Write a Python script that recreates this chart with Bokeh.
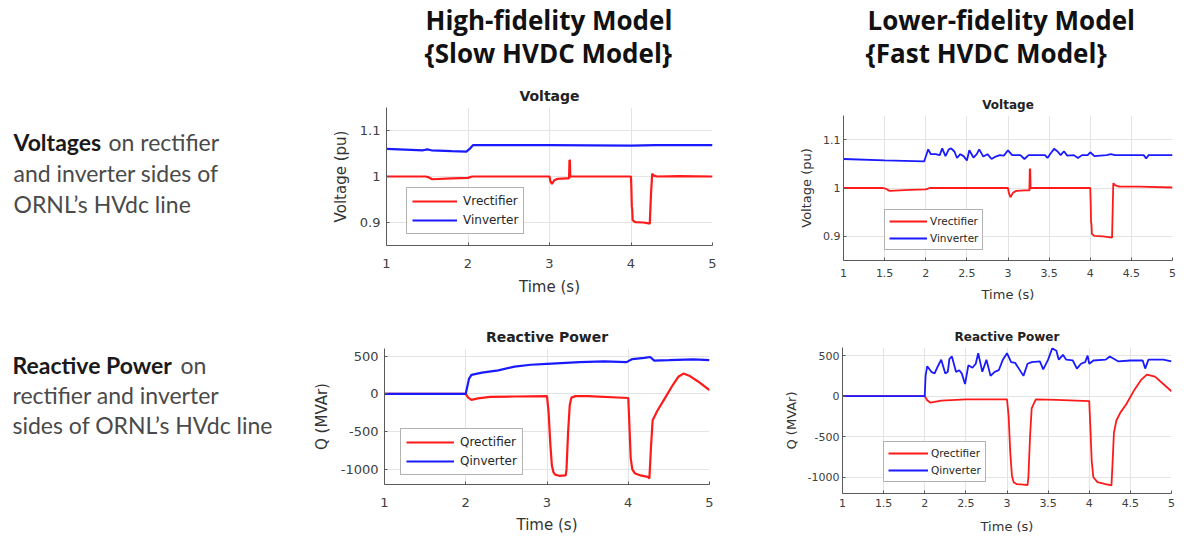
from bokeh.plotting import figure
from bokeh.models import Range1d, FixedTicker, Legend, LegendItem
from bokeh.layouts import row, column
from bokeh.core.properties import value
from bokeh.embed import file_html
from bokeh.resources import INLINE

# ---------------- data ----------------
# High-fidelity model, voltage
t_hi_vrect = [1.0, 1.48, 1.52, 1.56, 1.8, 2.0, 2.05, 2.5, 3.0, 3.01, 3.03, 3.06, 3.1, 3.2, 3.24,
              3.245, 3.25, 3.255, 3.26, 3.3, 3.6, 4.0, 4.005, 4.01, 4.015, 4.02, 4.05, 4.15, 4.22,
              4.23, 4.245, 4.26, 4.28, 4.32, 4.6, 5.0]
v_hi_vrect = [1.0, 1.0, 0.998, 0.994, 0.996, 0.997, 1.0, 1.0, 1.0, 0.99, 0.984, 0.992, 0.995, 0.996, 0.996,
              1.036, 1.035, 0.998, 1.0, 1.0, 1.0, 1.0, 0.97, 0.935, 0.928, 0.905, 0.901, 0.9, 0.898,
              0.897, 0.96, 1.006, 1.002, 1.0, 1.001, 1.0]
t_hi_vinv = [1.0, 1.45, 1.5, 1.55, 1.8, 1.98, 2.02, 2.06, 2.5, 3.0, 4.0, 4.3, 5.0]
v_hi_vinv = [1.06, 1.057, 1.059, 1.057, 1.055, 1.054, 1.06, 1.068, 1.068, 1.068, 1.067, 1.068, 1.068]

# Lower-fidelity model, voltage
t_lo_vrect = [1.0, 1.48, 1.52, 1.56, 1.8, 2.0, 2.05, 2.5, 3.0, 3.01, 3.03, 3.06, 3.1, 3.2, 3.26,
              3.265, 3.27, 3.275, 3.28, 3.3, 3.6, 4.0, 4.005, 4.01, 4.015, 4.02, 4.05, 4.15, 4.25,
              4.265, 4.28, 4.3, 4.35, 4.6, 5.0]
v_lo_vrect = [1.0, 1.0, 0.998, 0.994, 0.996, 0.997, 1.0, 1.0, 1.0, 0.99, 0.981, 0.99, 0.994, 0.995, 0.995,
              1.04, 1.038, 0.998, 1.0, 1.0, 1.0, 1.0, 0.97, 0.93, 0.925, 0.905, 0.901, 0.9, 0.898,
              0.897, 1.01, 1.006, 1.003, 1.003, 1.001]
t_lo_vinv = [1.0, 1.5, 1.98, 2.01, 2.03, 2.06, 2.12, 2.17, 2.2, 2.24, 2.28, 2.31, 2.35, 2.38, 2.42,
             2.46, 2.5, 2.53, 2.58, 2.62, 2.65, 2.7, 2.75, 2.8, 2.85, 2.9, 2.95, 3.0, 3.05, 3.15,
             3.2, 3.25, 3.35, 3.45, 3.48, 3.52, 3.56, 3.6, 3.64, 3.68, 3.72, 3.8, 3.85, 3.9, 3.97,
             4.0, 4.05, 4.2, 4.25, 4.3, 4.5, 4.65, 4.68, 4.71, 4.9, 5.0]
v_lo_vinv = [1.06, 1.057, 1.055, 1.07, 1.08, 1.07, 1.07, 1.068, 1.082, 1.066, 1.08, 1.082, 1.075, 1.062, 1.07,
             1.066, 1.057, 1.078, 1.063, 1.07, 1.08, 1.065, 1.07, 1.06, 1.065, 1.068, 1.067, 1.078, 1.068, 1.068,
             1.06, 1.068, 1.068, 1.068, 1.062, 1.072, 1.081, 1.076, 1.068, 1.076, 1.067, 1.068, 1.062, 1.068, 1.068,
             1.074, 1.066, 1.068, 1.07, 1.068, 1.068, 1.068, 1.061, 1.068, 1.068, 1.068]

# High-fidelity model, reactive power
t_hi_qrect = [1.0, 2.0, 2.03, 2.07, 2.15, 2.3, 2.6, 3.0, 3.02, 3.04, 3.06, 3.08, 3.1, 3.15, 3.23,
              3.24, 3.26, 3.28, 3.3, 3.35, 3.5, 4.0, 4.01, 4.03, 4.05, 4.08, 4.15, 4.24, 4.26,
              4.28, 4.3, 4.36, 4.45, 4.55, 4.62, 4.68, 4.75, 4.85, 5.0]
q_hi_qrect = [0, 0, -50, -80, -60, -40, -35, -30, -250, -650, -950, -1040, -1070, -1085, -1080,
              -1000, -500, -150, -50, -30, -30, -55, -300, -850, -1000, -1050, -1080, -1100, -1120,
              -700, -350, -220, -60, 120, 230, 268, 240, 170, 50]
t_hi_qinv = [1.0, 2.0, 2.02, 2.04, 2.07, 2.2, 2.4, 2.6, 2.8, 3.0, 3.4, 3.7, 3.98, 4.05, 4.2,
             4.27, 4.32, 4.5, 4.8, 5.0]
q_hi_qinv = [0, 0, 100, 200, 250, 280, 310, 360, 385, 397, 420, 430, 420, 460, 475,
             487, 440, 445, 455, 445]

# Lower-fidelity model, reactive power
t_lo_qrect = [1.0, 2.0, 2.03, 2.07, 2.2, 2.5, 3.0, 3.02, 3.04, 3.06, 3.08, 3.12, 3.2, 3.25, 3.26,
              3.28, 3.3, 3.35, 3.6, 4.0, 4.01, 4.03, 4.05, 4.1, 4.2, 4.27, 4.28, 4.3, 4.33, 4.38,
              4.45, 4.55, 4.63, 4.7, 4.8, 4.9, 5.0]
q_lo_qrect = [0, 0, -50, -80, -55, -40, -40, -250, -700, -980, -1060, -1085, -1090, -1095, -1000,
              -500, -150, -40, -45, -60, -300, -800, -1000, -1060, -1085, -1100, -900, -450, -300, -200,
              -100, 80, 200, 265, 240, 150, 60]
t_lo_qinv = [1.0, 2.0, 2.01, 2.03, 2.08, 2.12, 2.15, 2.2, 2.25, 2.28, 2.3, 2.33, 2.38, 2.42, 2.45,
             2.49, 2.53, 2.58, 2.62, 2.65, 2.7, 2.75, 2.8, 2.85, 2.9, 2.95, 3.0, 3.05, 3.1, 3.2,
             3.25, 3.3, 3.4, 3.44, 3.5, 3.55, 3.6, 3.63, 3.68, 3.72, 3.8, 3.85, 3.9, 3.95, 3.98,
             4.0, 4.05, 4.2, 4.25, 4.35, 4.5, 4.65, 4.68, 4.72, 4.9, 5.0]
q_lo_qinv = [0, 0, 250, 370, 300, 280, 350, 450, 280, 300, 460, 490, 300, 320, 280,
             150, 380, 350, 400, 530, 300, 450, 250, 300, 320, 450, 530, 420, 410, 250,
             400, 420, 430, 330, 450, 590, 560, 450, 510, 450, 440, 340, 400, 420, 500,
             400, 440, 450, 490, 430, 440, 440, 340, 450, 450, 430]

# ticks
x_ticks_hi = [1, 2, 3, 4, 5]
x_labels_hi = ["1", "2", "3", "4", "5"]
x_ticks_lo = [1, 1.5, 2, 2.5, 3, 3.5, 4, 4.5, 5]
x_labels_lo = ["1", "1.5", "2", "2.5", "3", "3.5", "4", "4.5", "5"]
v_ticks = [0.9, 1.0, 1.1]
v_labels = ["0.9", "1", "1.1"]
q_ticks = [-1000, -500, 0, 500]
q_labels = ["-1000", "-500", "0", "500"]

headers = ["High-fidelity Model", "{Slow HVDC Model}", "Lower-fidelity Model", "{Fast HVDC Model}"]

RED = "#ff1a1a"
BLUE = "#1a1aff"
FONT = "DejaVu Sans"


def text_fig(w, h, x0, y0):
    p = figure(width=w, height=h, x_range=Range1d(x0, x0 + w), y_range=Range1d(y0 + h, y0),
               output_backend="svg", toolbar_location=None, min_border=0,
               x_axis_type=None, y_axis_type=None)
    p.outline_line_color = None
    p.xgrid.visible = False
    p.ygrid.visible = False
    p.frame_align = False
    return p


def add_text(p, x, y, s, size, bold=False, color="#222222", font="Lato"):
    p.text(x=[x], y=[y], text=[s], text_font=value(font), text_font_size=size,
           text_font_style="bold" if bold else "normal", text_color=color,
           text_baseline="alphabetic", text_align="left")


def make_plot(w, h, bl, br, bt, bb, title, ylabel, yr, xt, xl, yt, yl, series, fs, leg):
    p = figure(width=w, height=h, x_range=Range1d(1, 5), y_range=Range1d(*yr),
               output_backend="svg", toolbar_location=None,
               min_border_left=bl, min_border_right=br, min_border_top=bt, min_border_bottom=bb)
    p.frame_align = False
    p.title.text = title
    p.title.align = "center"
    p.title.text_font = FONT
    p.title.text_font_size = fs["title"]
    p.title.text_font_style = "bold"
    p.title.text_color = "#222222"
    p.title.standoff = 7
    p.outline_line_color = None
    p.xaxis.ticker = FixedTicker(ticks=xt)
    p.xaxis.major_label_overrides = {float(k): v for k, v in zip(xt, xl)}
    p.yaxis.ticker = FixedTicker(ticks=yt)
    p.yaxis.major_label_overrides = {float(k): v for k, v in zip(yt, yl)}
    p.xaxis.axis_label = "Time (s)"
    p.yaxis.axis_label = ylabel
    for ax in (p.xaxis[0], p.yaxis[0]):
        ax.axis_line_color = "#5a5a5a"
        ax.major_tick_line_color = "#5a5a5a"
        ax.major_tick_in = 3
        ax.major_tick_out = 0
        ax.minor_tick_line_color = None
        ax.major_label_text_font = FONT
        ax.major_label_text_font_size = fs["tick"]
        ax.major_label_text_color = "#404040"
        ax.axis_label_text_font = FONT
        ax.axis_label_text_font_size = fs["label"]
        ax.axis_label_text_font_style = "normal"
        ax.axis_label_text_color = "#333333"
    p.xaxis.major_label_standoff = fs["xstand"]
    p.xaxis.axis_label_standoff = fs["xlstand"]
    p.yaxis.major_label_standoff = fs["ystand"]
    p.yaxis.axis_label_standoff = fs["ylstand"]
    p.xgrid.grid_line_color = "#e4e4e4"
    p.ygrid.grid_line_color = "#e4e4e4"
    items = []
    for (t, v, c, name) in series:
        r = p.line(t, v, line_color=c, line_width=fs["lw"])
        items.append(LegendItem(label=name, renderers=[r]))
    legend = Legend(items=items, location=leg["loc"], margin=0, padding=leg["pad"],
                    spacing=leg["spacing"], label_standoff=leg["standoff"],
                    glyph_width=leg["gw"], glyph_height=leg["lh"], label_height=leg["lh"],
                    label_text_font=FONT, label_text_font_size=leg["fs"],
                    label_text_color="#262626", border_line_color="#666666",
                    border_line_width=1, background_fill_color="white")
    p.add_layout(legend)
    return p


fs_tl = dict(title="14px", tick="13px", label="15px", lw=2.2, xstand=13, xlstand=7, ystand=6, ylstand=7)
fs_tr = dict(title="12px", tick="11px", label="13px", lw=1.8, xstand=8, xlstand=7, ystand=3, ylstand=6)
fs_bl = dict(fs_tl, xstand=13, xlstand=6)
fs_br = dict(fs_tr, xstand=5, xlstand=9)

leg_hi = dict(loc=(20, 11), pad=5, spacing=3, standoff=6, gw=45, lh=16, fs="12px")
leg_lo = dict(loc=(41, 10), pad=4, spacing=3, standoff=3, gw=38, lh=14, fs="10.5px")
leg_hi_q = dict(leg_hi, loc=(16, 9), gw=48)
leg_lo_q = dict(leg_lo, loc=(41, 11), gw=40)

p_tl = make_plot(482, 237, 88, 68, 32, 67, "Voltage", "Voltage (pu)", (0.85, 1.15),
                 x_ticks_hi, x_labels_hi, v_ticks, v_labels,
                 [(t_hi_vrect, v_hi_vrect, RED, "Vrectifier"), (t_hi_vinv, v_hi_vinv, BLUE, "Vinverter")],
                 fs_tl, leg_hi)
p_tr = make_plot(399, 237, 63, 7, 40, 52, "Voltage", "Voltage (pu)", (0.85, 1.15),
                 x_ticks_lo, x_labels_lo, v_ticks, v_labels,
                 [(t_lo_vrect, v_lo_vrect, RED, "Vrectifier"), (t_lo_vinv, v_lo_vinv, BLUE, "Vinverter")],
                 fs_tr, leg_lo)
p_bl = make_plot(482, 225, 86, 71, 36, 53, "Reactive Power", "Q (MVAr)", (-1200, 600),
                 x_ticks_hi, x_labels_hi, q_ticks, q_labels,
                 [(t_hi_qrect, q_hi_qrect, RED, "Qrectifier"), (t_hi_qinv, q_hi_qinv, BLUE, "Qinverter")],
                 fs_bl, leg_hi_q)
p_br = make_plot(399, 225, 62, 8, 35, 44, "Reactive Power", "Q (MVAr)", (-1200, 600),
                 x_ticks_lo, x_labels_lo, q_ticks, q_labels,
                 [(t_lo_qrect, q_lo_qrect, RED, "Qrectifier"), (t_lo_qinv, q_lo_qinv, BLUE, "Qinverter")],
                 fs_br, leg_lo_q)

# left description texts (coordinates = page pixels)
TXT = "23px"
p_left = text_fig(298, 537, 0, 0)
add_text(p_left, 13, 141, "Voltages", TXT, bold=True, color="#1a1a1a")
add_text(p_left, 108, 141, "on rectifier", TXT, color="#4a4a4a")
add_text(p_left, 13, 172, "and inverter sides of", TXT, color="#4a4a4a")
add_text(p_left, 13, 203, "ORNL\u2019s HVdc line", TXT, color="#4a4a4a")
add_text(p_left, 12, 364, "Reactive Power", TXT, bold=True, color="#1a1a1a")
add_text(p_left, 180, 364, "on", TXT, color="#4a4a4a")
add_text(p_left, 12, 394, "rectifier and inverter", TXT, color="#4a4a4a")
add_text(p_left, 12, 424, "sides of ORNL\u2019s HVdc line", TXT, color="#4a4a4a")

# column headers
HS = "26px"
p_head = text_fig(881, 75, 298, 0)
add_text(p_head, 425, 19, headers[0], HS, bold=True, color="#111111", font="Open Sans")
add_text(p_head, 424, 52, headers[1], HS, bold=True, color="#111111", font="Open Sans")
add_text(p_head, 867, 19, headers[2], HS, bold=True, color="#111111", font="Open Sans")
add_text(p_head, 865, 52, headers[3], HS, bold=True, color="#111111", font="Open Sans")

layout = row(p_left, column(p_head, row(p_tl, p_tr), row(p_bl, p_br)))

open("out.html", "w").write(file_html(layout, INLINE))
